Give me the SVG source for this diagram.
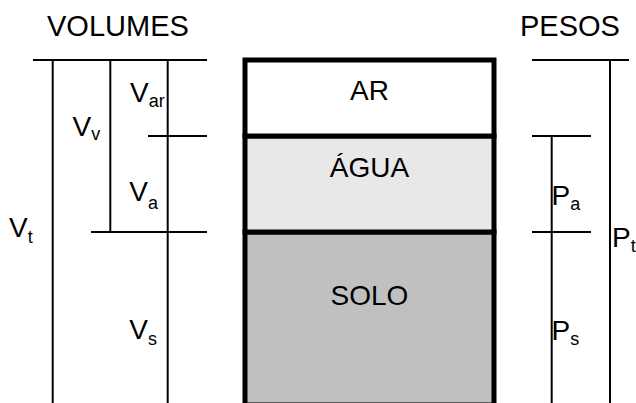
<svg xmlns="http://www.w3.org/2000/svg" width="636" height="403" viewBox="0 0 636 403">
<style>
.t{font-family:"Liberation Sans",Arial,sans-serif;fill:#000;}
.big{font-size:29px;}
.lab{font-size:28px;}
.sub{font-size:18px;}
.ln{stroke:#000;stroke-width:2;fill:none;}
.layer{stroke:#000;stroke-width:5;}
</style>
<rect width="636" height="403" fill="#fff"/>
<g id="titles">
<text class="t big" x="47" y="36">VOLUMES</text>
<text class="t big" x="520" y="36">PESOS</text>
</g>
<g id="connectors" class="ln">
<line x1="33" y1="60" x2="207" y2="60"/>
<line x1="148" y1="136" x2="207" y2="136"/>
<line x1="91" y1="232" x2="207" y2="232"/>
<line x1="52.7" y1="60" x2="52.7" y2="403"/>
<line x1="110.3" y1="60" x2="110.3" y2="232"/>
<line x1="167.7" y1="60" x2="167.7" y2="403"/>
<line x1="532" y1="60" x2="629" y2="60"/>
<line x1="532" y1="136" x2="591" y2="136"/>
<line x1="532" y1="232" x2="591" y2="232"/>
<line x1="610" y1="60" x2="610" y2="403"/>
<line x1="551.7" y1="136" x2="551.7" y2="403"/>
</g>
<g id="solo">
<rect class="layer" x="245" y="232" width="249" height="173" fill="#c0c0c0"/>
<text class="t lab" x="369.5" y="305" text-anchor="middle">SOLO</text>
</g>
<g id="agua">
<rect class="layer" x="245" y="136" width="249" height="96" fill="#e8e8e8"/>
<text class="t lab" x="369.5" y="177" text-anchor="middle">ÁGUA</text>
</g>
<g id="ar">
<rect class="layer" x="245" y="60" width="249" height="76" fill="#fff"/>
<text class="t lab" x="369.5" y="100" text-anchor="middle">AR</text>
</g>
<g id="label-Vt"><text class="t lab" x="9" y="237">V<tspan class="sub" dy="6">t</tspan></text></g>
<g id="label-Vv"><text class="t lab" x="72.5" y="136">V<tspan class="sub" dy="3.5">v</tspan></text></g>
<g id="label-Var"><text class="t lab" x="130" y="102">V<tspan class="sub" dy="4.5">ar</tspan></text></g>
<g id="label-Va"><text class="t lab" x="129.3" y="201">V<tspan class="sub" dy="7.5">a</tspan></text></g>
<g id="label-Vs"><text class="t lab" x="129.3" y="338.5">V<tspan class="sub" dy="6">s</tspan></text></g>
<g id="label-Pa"><text class="t lab" x="551.5" y="204.5">P<tspan class="sub" dy="5.5">a</tspan></text></g>
<g id="label-Ps"><text class="t lab" x="551.5" y="340">P<tspan class="sub" dy="4.5">s</tspan></text></g>
<g id="label-Pt"><text class="t lab" x="612" y="246.5">P<tspan class="sub" dy="5">t</tspan></text></g>
</svg>
